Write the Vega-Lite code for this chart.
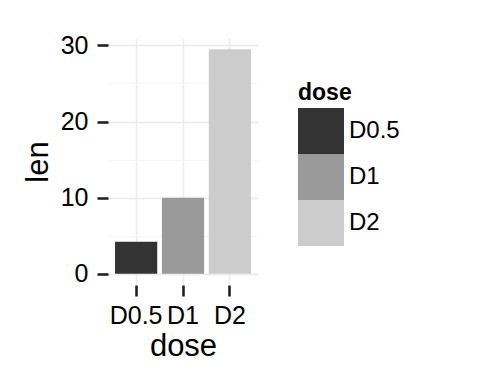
{
  "$schema": "https://vega.github.io/schema/vega-lite/v6.json",
  "width": 150,
  "height": 247,
  "autosize": {"type": "none"},
  "padding": {"left": 108, "top": 38, "right": 222, "bottom": 99},
  "background": "white",
  "data": {"values": [
    {"dose": "D0.5", "len": 4.2},
    {"dose": "D1", "len": 10},
    {"dose": "D2", "len": 29.5}
  ]},
  "mark": {"type": "bar"},
  "encoding": {
    "x": {
      "field": "dose", "type": "nominal",
      "scale": {"paddingInner": 0.1, "paddingOuter": 0.15},
      "axis": {
        "title": "dose", "labelAngle": 0, "bandPosition": 0.5,
        "grid": true, "gridColor": "#ebebeb", "gridWidth": 1.5,
        "domain": false, "tickColor": "#1a1a1a", "tickWidth": 2.5, "tickSize": 11,
        "labelFont": "Liberation Sans", "labelFontSize": 25, "labelColor": "black", "labelPadding": 7,
        "titleFont": "Liberation Sans", "titleFontSize": 31, "titleFontWeight": "normal", "titleColor": "black", "titlePadding": 3
      }
    },
    "y": {
      "field": "len", "type": "quantitative",
      "scale": {"domain": [-1.475, 30.975], "nice": false},
      "axis": {
        "title": "len",
        "values": [0, 5, 10, 15, 20, 25, 30],
        "labelExpr": "datum.value % 10 == 0 ? datum.label : ''",
        "tickOpacity": {"condition": {"test": "datum.value % 10 != 0", "value": 0}, "value": 1},
        "gridColor": {"condition": {"test": "datum.value % 10 != 0", "value": "#f5f5f5"}, "value": "#ebebeb"},
        "gridWidth": {"condition": {"test": "datum.value % 10 != 0", "value": 1}, "value": 1.5},
        "grid": true, "domain": false, "tickColor": "#1a1a1a", "tickWidth": 2.5, "tickSize": 11,
        "labelFont": "Liberation Sans", "labelFontSize": 25, "labelColor": "black", "labelPadding": 9,
        "titleFont": "Liberation Sans", "titleFontSize": 31, "titleFontWeight": "normal", "titleColor": "black", "titlePadding": 6
      }
    },
    "fill": {
      "field": "dose", "type": "nominal",
      "scale": {"range": ["#333333", "#999999", "#cccccc"]},
      "legend": {
        "orient": "none", "legendX": 190, "legendY": 44,
        "title": "dose",
        "titleFont": "Liberation Sans", "titleFontSize": 23, "titleFontWeight": "bold", "titleColor": "black", "titlePadding": 3,
        "symbolType": "square", "symbolSize": 2116, "symbolStrokeWidth": 0, "symbolOpacity": 1,
        "rowPadding": 0, "labelOffset": 5,
        "labelFont": "Liberation Sans", "labelFontSize": 24, "labelColor": "black"
      }
    }
  },
  "config": {"view": {"stroke": null}}
}
